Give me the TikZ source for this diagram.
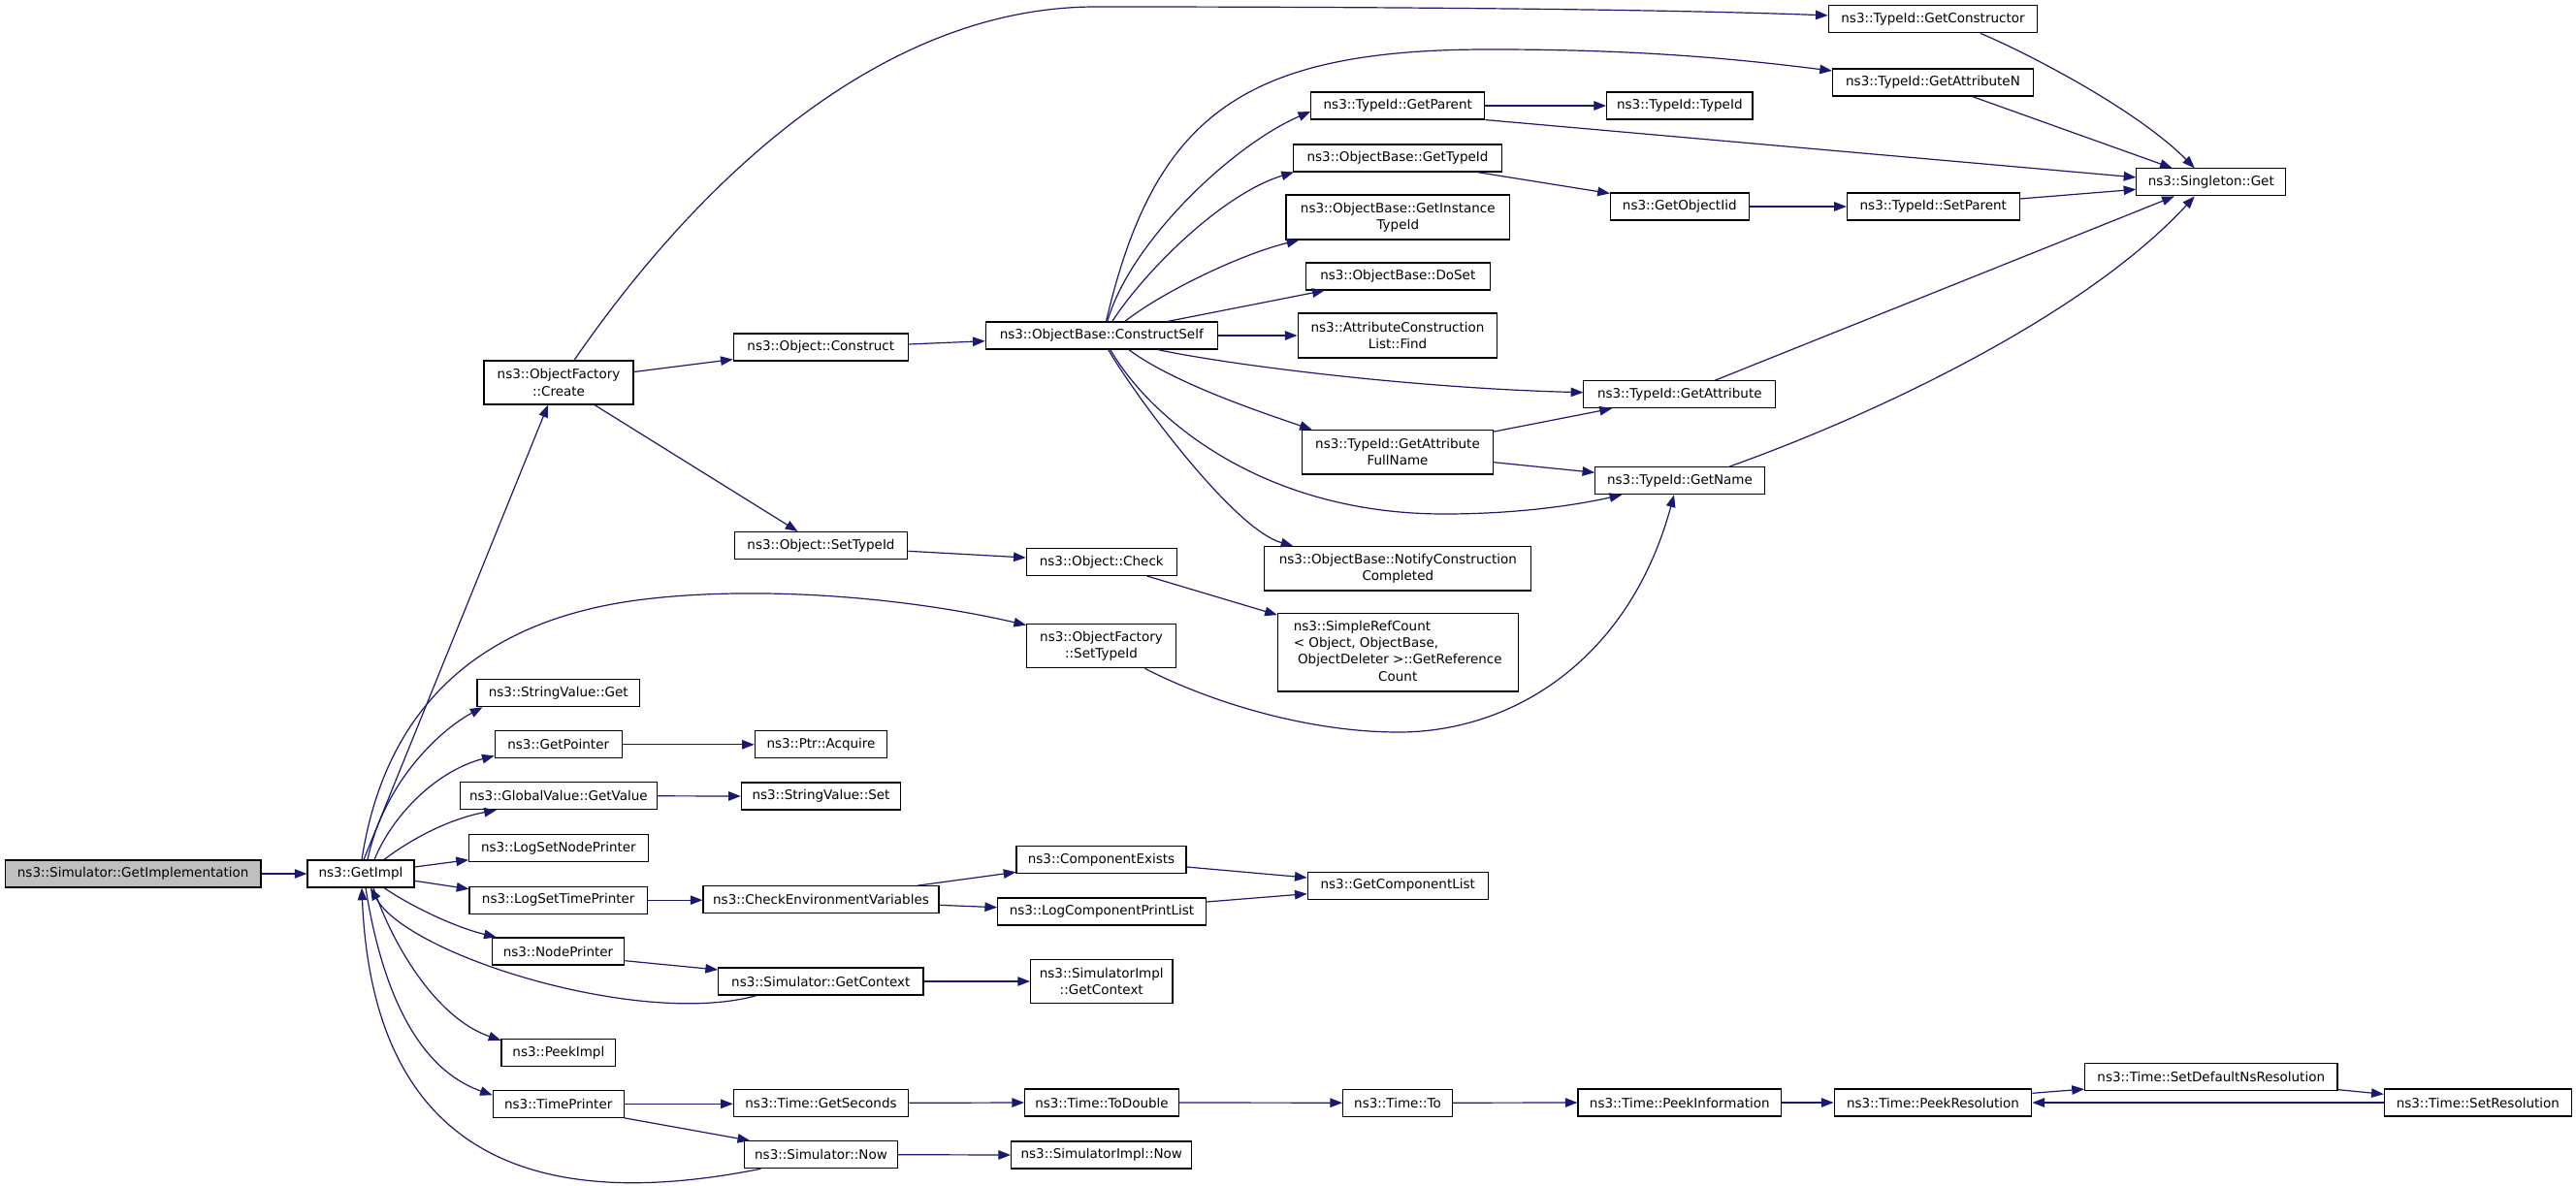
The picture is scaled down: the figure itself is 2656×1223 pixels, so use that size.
\documentclass[tikz,border=0pt]{standalone}
\usepackage{fontspec}
\setmainfont{DejaVu Sans}
\usetikzlibrary{arrows.meta,calc}
\definecolor{edgeblue}{HTML}{191970}
\definecolor{rootgray}{HTML}{BFBFBF}
\begin{document}
\begin{tikzpicture}[x=1pt,y=-1pt,
  box/.style={draw=black,line width=1.1pt,inner sep=0pt,align=center,minimum height=28pt,
    font=\fontsize{13.5pt}{17.3pt}\selectfont},
  call/.style={draw=edgeblue,line width=1.2pt,-{Triangle[length=12.7pt,width=9.5pt]}}]
\useasboundingbox (0,0) rectangle (2656,1223);
% nodes
\node[box,fill=rootgray,minimum width=263.5pt] (impl) at (137.2,901) {ns3::Simulator::GetImplementation};
\node[box,minimum width=110pt] (getimpl) at (372,901) {ns3::GetImpl};
\node[box,minimum width=154pt,minimum height=45pt] (ofcreate) at (576,394.5) {ns3::ObjectFactory\\::Create};
\node[box,minimum width=167.4pt] (svget) at (575.7,714.7) {ns3::StringValue::Get};
\node[box,minimum width=131pt] (getptr) at (575.75,767.8) {ns3::GetPointer};
\node[box,minimum width=203pt] (gvget) at (575.9,820.8) {ns3::GlobalValue::GetValue};
\node[box,minimum width=184.6pt] (lsnp) at (575.9,874.7) {ns3::LogSetNodePrinter};
\node[box,minimum width=183.4pt] (lstp) at (575.7,928.2) {ns3::LogSetTimePrinter};
\node[box,minimum width=136.4pt] (nodepr) at (575.5,981) {ns3::NodePrinter};
\node[box,minimum width=117.8pt] (peekimpl) at (575.9,1085.3) {ns3::PeekImpl};
\node[box,minimum width=135pt] (timepr) at (575.75,1138.3) {ns3::TimePrinter};
\node[box,minimum width=180pt] (construct) at (846.3,358) {ns3::Object::Construct};
\node[box,minimum width=178.7pt] (settypeid) at (846.5,562.5) {ns3::Object::SetTypeId};
\node[box,minimum width=136.4pt] (ptracq) at (846.5,767.8) {ns3::Ptr::Acquire};
\node[box,minimum width=164.3pt] (svset) at (846.5,821) {ns3::StringValue::Set};
\node[box,minimum width=243pt] (checkenv) at (846.5,927.8) {ns3::CheckEnvironmentVariables};
\node[box,minimum width=211.4pt] (simgetctx) at (846.3,1012) {ns3::Simulator::GetContext};
\node[box,minimum width=180.4pt] (getsec) at (846.5,1137.3) {ns3::Time::GetSeconds};
\node[box,minimum width=157.5pt] (simnow) at (846.5,1190.7) {ns3::Simulator::Now};
\node[box,minimum width=239pt] (cself) at (1135.75,346) {ns3::ObjectBase::ConstructSelf};
\node[box,minimum width=155pt] (objcheck) at (1135.8,579.5) {ns3::Object::Check};
\node[box,minimum width=153.7pt,minimum height=45.7pt] (ofsettypeid) at (1135.5,666) {ns3::ObjectFactory\\::SetTypeId};
\node[box,minimum width=175pt] (compexists) at (1135.5,886.5) {ns3::ComponentExists};
\node[box,minimum width=214.7pt] (logcpl) at (1136,940) {ns3::LogComponentPrintList};
\node[box,minimum width=146.5pt,minimum height=45.4pt] (simimplctx) at (1135.75,1012) {ns3::SimulatorImpl\\::GetContext};
\node[box,minimum width=158.8pt] (todouble) at (1136,1137) {ns3::Time::ToDouble};
\node[box,minimum width=186.3pt] (simimplnow) at (1135.75,1191) {ns3::SimulatorImpl::Now};
\node[box,minimum width=179pt] (getparent) at (1441.25,109) {ns3::TypeId::GetParent};
\node[box,minimum width=215pt] (obgettypeid) at (1441,163) {ns3::ObjectBase::GetTypeId};
\node[box,minimum width=230.7pt,minimum height=46pt] (getinst) at (1441.3,224) {ns3::ObjectBase::GetInstance\\TypeId};
\node[box,minimum width=190pt] (doset) at (1441.3,285) {ns3::ObjectBase::DoSet};
\node[box,minimum width=205.8pt,minimum height=46pt] (acfind) at (1441,346) {ns3::AttributeConstruction\\List::Find};
\node[box,minimum width=197.3pt,minimum height=45.3pt] (fullname) at (1441,466.3) {ns3::TypeId::GetAttribute\\FullName};
\node[box,minimum width=274.8pt,minimum height=45.3pt] (notify) at (1441.3,586.3) {ns3::ObjectBase::NotifyConstruction\\Completed};
\node[box,minimum width=247.7pt,minimum height=80.3pt] (simpleref) at (1441.25,672.8) {\begin{tabular}{@{}l@{}}ns3::SimpleRefCount\\< Object, ObjectBase,\\\ ObjectDeleter >::GetReference\\\multicolumn{1}{@{}c@{}}{Count}\end{tabular}};
\node[box,minimum width=150.4pt] (tidtid) at (1731.8,109) {ns3::TypeId::TypeId};
\node[box,minimum width=142.7pt] (getobjiid) at (1731.75,213) {ns3::GetObjectIid};
\node[box,minimum width=197.8pt] (getattr) at (1731.8,406.7) {ns3::TypeId::GetAttribute};
\node[box,minimum width=174.4pt] (getname) at (1732,495.7) {ns3::TypeId::GetName};
\node[box,minimum width=186pt] (getcomplist) at (1441.25,913.2) {ns3::GetComponentList};
\node[box,minimum width=112.7pt] (timeto) at (1441,1137.2) {ns3::Time::To};
\node[box,minimum width=209.6pt] (peekinfo) at (1731.8,1137) {ns3::Time::PeekInformation};
\node[box,minimum width=215.5pt] (getctor) at (1993,19.9) {ns3::TypeId::GetConstructor};
\node[box,minimum width=207pt] (getattrn) at (1993,85) {ns3::TypeId::GetAttributeN};
\node[box,minimum width=177.8pt] (setparent) at (1993.3,213) {ns3::TypeId::SetParent};
\node[box,minimum width=203.7pt] (peekres) at (1993,1137) {ns3::Time::PeekResolution};
\node[box,minimum width=153.7pt] (singleton) at (2279.75,187.9) {ns3::Singleton::Get};
\node[box,minimum width=260.5pt] (setdefns) at (2279.75,1110.5) {ns3::Time::SetDefaultNsResolution};
\node[box,minimum width=193.1pt] (setres) at (2554.85,1137) {ns3::Time::SetResolution};
% edges
\draw[call] (impl.east) -- (getimpl.west);
\draw[call] ($(getimpl.north)+(3,0)$) -- ($(ofcreate.south)+(-11,0)$);
\draw[call] ($(getimpl.north)+(1,0)$) .. controls (388,790) and (440,645) .. (664,618) .. controls (780,604) and (930,615) .. ($(ofsettypeid.north west)+(0,2)$);
\draw[call] ($(getimpl.north)+(7,0)$) .. controls (395,810) and (450,755) .. ($(svget.south west)+(6,0)$);
\draw[call] ($(getimpl.north)+(14,0)$) .. controls (405,840) and (450,795) .. ($(getptr.south west)+(0,-3)$);
\draw[call] ($(getimpl.north)+(24,0)$) .. controls (420,868) and (460,845) .. ($(gvget.south west)+(38,0)$);
\draw[call] ($(getimpl.east)+(0,-7)$) -- ($(lsnp.west)+(0,12)$);
\draw[call] ($(getimpl.east)+(0,7.3)$) -- ($(lstp.west)+(0,-11.5)$);
\draw[call] ($(getimpl.south)+(24,0)$) .. controls (420,932) and (465,955) .. ($(nodepr.north west)+(5,0)$);
\draw[call] ($(getimpl.south)+(13,0)$) .. controls (405,975) and (450,1050) .. ($(peekimpl.north west)+(0,2)$);
\draw[call] ($(getimpl.south)+(5,0)$) .. controls (392,1010) and (425,1100) .. ($(timepr.west)+(0,-9)$);
\draw[call] ($(simgetctx.south)+(-66,0)$) .. controls (660,1060) and (420,985) .. ($(getimpl.south)+(10,0)$);
\draw[call] ($(simnow.south)+(-62,0)$) .. controls (560,1250) and (385,1200) .. ($(getimpl.south)+(1,0)$);
\draw[call] ($(ofcreate.east)+(0,-11)$) -- ($(construct.south west)+(0,-2)$);
\draw[call] ($(ofcreate.south)+(37,0)$) -- ($(settypeid.north)+(-24,0)$);
\draw[call] ($(ofcreate.north)+(16,0)$) .. controls (710,200) and (900,7) .. (1130,7) .. controls (1400,7) and (1700,9) .. ($(getctor.west)+(0,-4)$);
\draw[call] ($(construct.east)+(0,-3)$) -- ($(cself.west)+(0,5.7)$);
\draw[call] ($(cself.north)+(4.7,0)$) .. controls (1190,120) and (1280,50) .. (1540,51) .. controls (1700,51) and (1800,62) .. ($(getattrn.west)+(0,-12)$);
\draw[call] ($(cself.north)+(6,0)$) .. controls (1165,250) and (1270,150) .. ($(getparent.west)+(0,6)$);
\draw[call] ($(cself.north)+(11,0)$) .. controls (1180,280) and (1260,200) .. ($(obgettypeid.south west)+(1,0)$);
\draw[call] ($(cself.north)+(24,0)$) .. controls (1200,300) and (1280,262) .. ($(getinst.south west)+(14,0)$);
\draw[call] ($(cself.north)+(68,0)$) -- ($(doset.south west)+(20,0)$);
\draw[call] (cself.east) -- (acfind.west);
\draw[call] ($(cself.south)+(58,0)$) .. controls (1260,375) and (1450,400) .. ($(getattr.west)+(0,-2)$);
\draw[call] ($(cself.south)+(28,0)$) .. controls (1210,395) and (1300,425) .. ($(fullname.north west)+(11,0)$);
\draw[call] ($(cself.south)+(9,0)$) .. controls (1185,430) and (1300,530) .. (1489,530) .. controls (1560,530) and (1620,522) .. ($(getname.south west)+(28,0)$);
\draw[call] ($(cself.south)+(7,0)$) .. controls (1165,400) and (1270,545) .. ($(notify.north west)+(30,0)$);
\draw[call] (getparent.east) -- (tidtid.west);
\draw[call] (getparent.south east) -- ($(singleton.west)+(0,-5)$);
\draw[call] ($(obgettypeid.south east)+(-26,0)$) -- ($(getobjiid.north west)+(0,1)$);
\draw[call] (getobjiid.east) -- (setparent.west);
\draw[call] ($(setparent.east)+(0,-8)$) -- ($(singleton.west)+(0,7.4)$);
\draw[call] ($(getctor.south)+(49,0)$) .. controls (2080,50) and (2200,110) .. ($(singleton.north)+(-17,0)$);
\draw[call] ($(getattrn.south)+(40.5,0)$) -- ($(singleton.north)+(-40,0)$);
\draw[call] ($(getattr.north)+(36.6,0)$) -- ($(singleton.south)+(-38,0)$);
\draw[call] ($(getname.north)+(51,0)$) .. controls (1943,424) and (2153,322) .. ($(singleton.south)+(-17,0)$);
\draw[call] ($(fullname.north east)+(0,2)$) -- ($(getattr.south west)+(29.6,0)$);
\draw[call] ($(fullname.east)+(0,10.4)$) -- ($(getname.west)+(0,-8.4)$);
\draw[call] ($(ofsettypeid.south)+(45,0)$) .. controls (1250,725) and (1350,755) .. (1442,755) .. controls (1560,755) and (1680,680) .. ($(getname.south)+(-6,0)$);
\draw[call] ($(settypeid.east)+(0,5.8)$) -- ($(objcheck.west)+(0,-4.5)$);
\draw[call] ($(objcheck.south)+(47,0)$) -- ($(simpleref.north west)+(0,2)$);
\draw[call] (getptr.east) -- (ptracq.west);
\draw[call] (gvget.east) -- (svset.west);
\draw[call] (lstp.east) -- (lstp.east -| checkenv.west);
\draw[call] ($(checkenv.north)+(99,0)$) -- ($(compexists.south west)+(0,-1.7)$);
\draw[call] ($(checkenv.east)+(0,5.5)$) -- ($(logcpl.west)+(0,-4.3)$);
\draw[call] ($(compexists.east)+(0,7.5)$) -- ($(getcomplist.west)+(0,-8.2)$);
\draw[call] ($(logcpl.east)+(0,-10)$) -- ($(getcomplist.west)+(0,8.5)$);
\draw[call] ($(nodepr.east)+(0,9.7)$) -- ($(simgetctx.west)+(0,-12)$);
\draw[call] (simgetctx.east) -- (simimplctx.west);
\draw[call] (timepr.east) -- (timepr.east -| getsec.west);
\draw[call] (timepr.south east) -- ($(simnow.north west)+(6,0)$);
\draw[call] (simnow.east) -- (simimplnow.west);
\draw[call] (getsec.east) -- (todouble.west);
\draw[call] (todouble.east) -- (timeto.west);
\draw[call] (timeto.east) -- (peekinfo.west);
\draw[call] (peekinfo.east) -- (peekres.west);
\draw[call] ($(peekres.east)+(0,-9.7)$) -- ($(setdefns.south west)+(0,-2)$);
\draw[call] ($(setdefns.south east)+(0,-1.4)$) -- ($(setres.west)+(0,-8.7)$);
\draw[call] (setres.west) -- (peekres.east);
\end{tikzpicture}
\end{document}
